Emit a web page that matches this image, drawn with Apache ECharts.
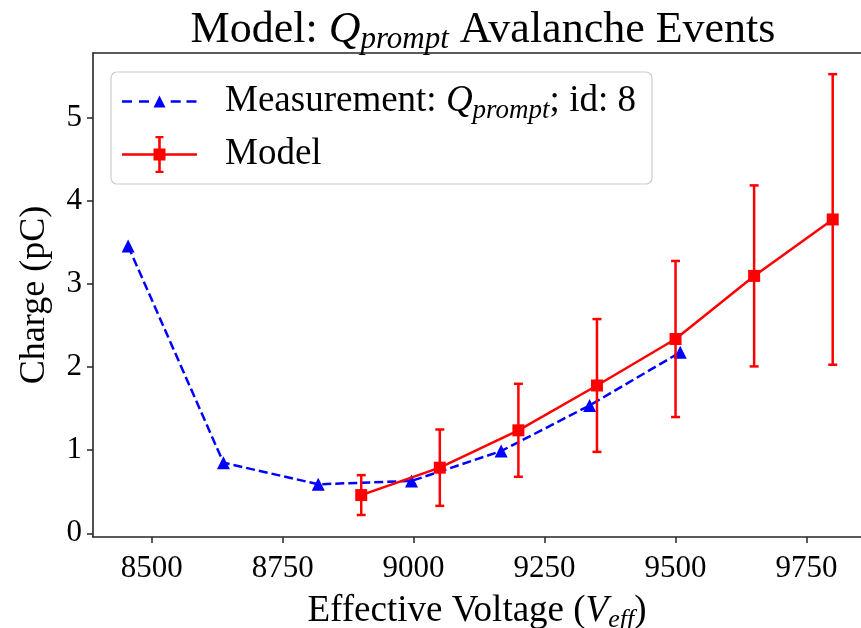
<!DOCTYPE html>
<html>
<head>
<meta charset="utf-8">
<script src="https://cdn.jsdelivr.net/npm/echarts@6/dist/echarts.min.js"></script>
<style>
  html, body { margin: 0; padding: 0; background: #fff; }
  #chart { width: 861px; height: 628px; }
</style>
</head>
<body>
<div id="chart"></div>
<script>
// Measured prompt charge versus effective voltage
const measVoltage = [8455, 8637, 8818, 8996, 9167, 9336, 9509];
const measCharge = [3.46, 0.85, 0.59, 0.63, 0.99, 1.54, 2.18];

// Model prediction with symmetric uncertainty
const modelVoltage = [8900, 9050, 9200, 9350, 9500, 9650, 9800];
const modelCharge = [0.46, 0.79, 1.24, 1.78, 2.34, 3.10, 3.78];
const modelError = [0.24, 0.46, 0.56, 0.80, 0.94, 1.09, 1.75];

// Tick labels
const xTicks = [8500, 8750, 9000, 9250, 9500, 9750];
const yTicks = [0, 1, 2, 3, 4, 5];

const SERIF = '"Liberation Serif", "DejaVu Serif", serif';
const BLUE = '#0000ff';
const RED = '#ff0000';
const AXIS = '#262626';

const measPoints = measVoltage.map((v, i) => [v, measCharge[i]]);
const modelPoints = modelVoltage.map((v, i) => [v, modelCharge[i]]);
const modelBars = modelVoltage.map((v, i) => [v, modelCharge[i] - modelError[i], modelCharge[i] + modelError[i]]);

// Legend glyphs: dashed line with triangle, and line with error-bar square
const measIcon = 'path://M0 0L0.01 0L0 0.01Z M75 37L74.99 37L75 36.99Z ' +
  'M0 17.2h10v2.6h-10Z M17 17.2h10v2.6h-10Z M48.7 17.2h10v2.6h-10Z M64.5 17.2h10v2.6h-10Z ' +
  'M37.5 12.5L43.5 24.5L31.5 24.5Z';
const modelIcon = 'path://M0 17.2h75v2.6h-75Z M36.2 0h2.6v37h-2.6Z M33.5 0h8v2.2h-8Z M33.5 34.8h8v2.2h-8Z ' +
  'M31.5 12.5h12v12h-12Z';

const txt = (size, extra) => Object.assign({ fontFamily: SERIF, fontSize: size, fontWeight: 'normal', color: '#000' }, extra || {});

const chart = echarts.init(document.getElementById('chart'), null, { renderer: 'canvas' });

chart.setOption({
  backgroundColor: '#ffffff',
  animation: false,
  title: {
    text: '{n|Model: }{q|Q}{s|prompt}{n| Avalanche Events}',
    left: 478,
    top: 2,
    textAlign: 'center',
    textStyle: {
      fontWeight: 'normal',
      rich: {
        n: txt(44, { lineHeight: 46 }),
        q: txt(44, { fontStyle: 'italic', lineHeight: 46 }),
        s: txt(31, { fontStyle: 'italic', lineHeight: 26, padding: [20, 0, 0, 0] })
      }
    }
  },
  legend: {
    left: 111,
    top: 72,
    orient: 'vertical',
    itemWidth: 75,
    itemHeight: 37,
    itemGap: 12,
    padding: [7, 16, 11, 11],
    backgroundColor: 'rgba(255,255,255,0.8)',
    borderColor: '#cccccc',
    borderWidth: 1.2,
    borderRadius: 6,
    data: [
      { name: 'Measurement', icon: measIcon, itemStyle: { color: BLUE } },
      { name: 'Model', icon: modelIcon, itemStyle: { color: RED } }
    ],
    formatter: function (name) {
      if (name === 'Measurement') {
        return '{g|}{n|Measurement: }{q|Q}{s|prompt}{n|; id: 8}';
      }
      return '{g|}{n|Model}';
    },
    textStyle: {
      rich: {
        g: { width: 23, lineHeight: 37 },
        n: txt(37, { lineHeight: 37 }),
        q: txt(37, { fontStyle: 'italic', lineHeight: 37 }),
        s: txt(27, { fontStyle: 'italic', lineHeight: 19, padding: [18, 0, 0, 0] })
      }
    }
  },
  grid: { left: 93, right: 0, top: 53, bottom: 91, containLabel: false, outerBoundsMode: 'none' },
  xAxis: [
    {
      type: 'value',
      position: 'bottom',
      min: 8388,
      max: 9854,
      name: '{n|Effective Voltage (}{v|V}{s|eff}{n|)}',
      nameLocation: 'middle',
      nameGap: 47,
      nameTextStyle: {
        rich: {
          n: txt(37, { lineHeight: 40 }),
          v: txt(37, { fontStyle: 'italic', lineHeight: 40 }),
          s: txt(26, { fontStyle: 'italic', lineHeight: 22, padding: [18, 0, 0, 0] })
        }
      },
      splitLine: { show: false },
      axisLine: { show: true, onZero: false, lineStyle: { color: AXIS, width: 1.6 } },
      axisTick: { show: true, length: 6, lineStyle: { color: AXIS, width: 1.5 }, customValues: xTicks },
      axisLabel: {
        customValues: xTicks,
        formatter: function (v) { return String(v); },
        fontFamily: SERIF, fontSize: 31, color: '#000', margin: 16
      }
    },
    {
      type: 'value',
      position: 'top',
      min: 8388,
      max: 9854,
      splitLine: { show: false },
      axisLine: { show: true, onZero: false, lineStyle: { color: AXIS, width: 1.6 } },
      axisTick: { show: false },
      axisLabel: { show: false }
    }
  ],
  yAxis: {
    type: 'value',
    min: -0.045,
    max: 5.785,
    name: 'Charge (pC)',
    nameLocation: 'middle',
    nameGap: 40,
    nameTextStyle: txt(36),
    splitLine: { show: false },
    axisLine: { show: true, onZero: false, lineStyle: { color: AXIS, width: 1.6 } },
    axisTick: { show: true, length: 6, lineStyle: { color: AXIS, width: 1.5 }, customValues: yTicks },
    axisLabel: {
      customValues: yTicks,
      formatter: function (v) { return String(v); },
      fontFamily: SERIF, fontSize: 31, color: '#000', margin: 11
    }
  },
  series: [
    {
      name: 'Measurement',
      type: 'line',
      xAxisIndex: 0,
      data: measPoints,
      symbol: 'triangle',
      symbolSize: 13,
      itemStyle: { color: BLUE },
      lineStyle: { color: BLUE, width: 2.5, type: [9, 4] },
      z: 2
    },
    {
      name: 'Model bars',
      type: 'custom',
      xAxisIndex: 0,
      data: modelBars,
      encode: { x: 0, y: [1, 2] },
      z: 3,
      renderItem: function (params, api) {
        const x = api.value(0);
        const lo = api.coord([x, api.value(1)]);
        const hi = api.coord([x, api.value(2)]);
        const cap = 4.5;
        const st = { stroke: RED, lineWidth: 2.5 };
        return {
          type: 'group',
          children: [
            { type: 'line', shape: { x1: hi[0], y1: hi[1], x2: lo[0], y2: lo[1] }, style: st },
            { type: 'line', shape: { x1: hi[0] - cap, y1: hi[1], x2: hi[0] + cap, y2: hi[1] }, style: st },
            { type: 'line', shape: { x1: lo[0] - cap, y1: lo[1], x2: lo[0] + cap, y2: lo[1] }, style: st }
          ]
        };
      }
    },
    {
      name: 'Model',
      type: 'line',
      xAxisIndex: 0,
      data: modelPoints,
      symbol: 'rect',
      symbolSize: 12,
      itemStyle: { color: RED },
      lineStyle: { color: RED, width: 2.5 },
      z: 4
    }
  ]
});
</script>
</body>
</html>
